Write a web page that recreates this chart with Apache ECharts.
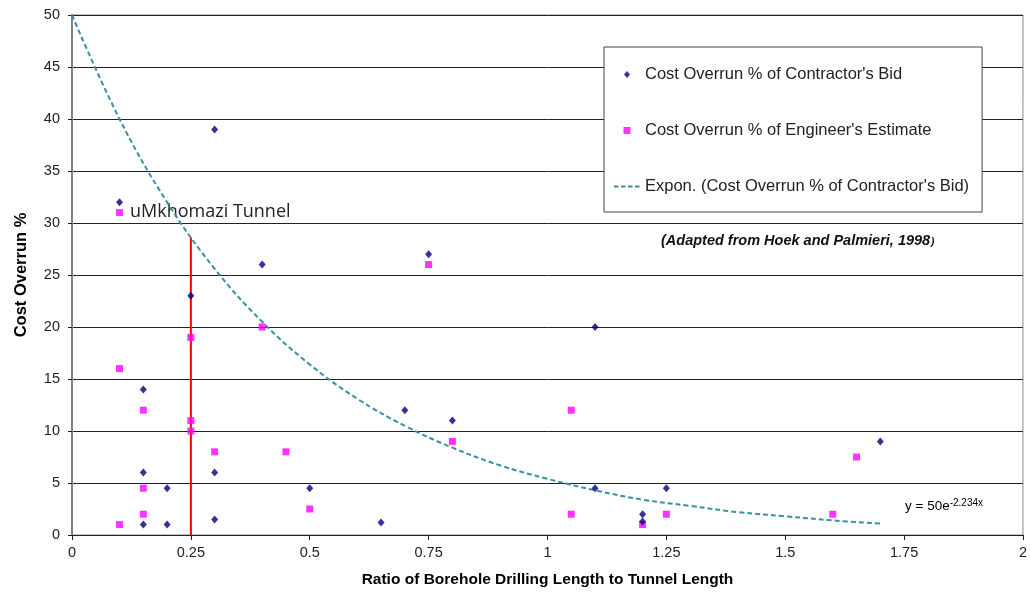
<!DOCTYPE html>
<html>
<head>
<meta charset="utf-8">
<script src="https://cdn.jsdelivr.net/npm/echarts@6/dist/echarts.min.js"></script>
<style>
html,body{margin:0;padding:0;background:#fff;}
#c{width:1030px;height:593px;}
</style>
</head>
<body>
<div id="c"></div>
<script>
// ---- data ----
var contractorBid = [
  [0.1, 32], [0.3, 39], [0.25, 23], [0.4, 26], [0.15, 14], [0.75, 27],
  [1.1, 20], [0.7, 12], [0.8, 11], [0.15, 6], [0.3, 6], [0.2, 4.5],
  [0.5, 4.5], [1.1, 4.5], [1.25, 4.5], [1.2, 2], [1.2, 1.3], [1.7, 9],
  [0.15, 1], [0.2, 1], [0.3, 1.5], [0.65, 1.2]
];
var engineerEstimate = [
  [0.1, 31], [0.1, 16], [0.15, 12], [0.25, 19], [0.25, 11], [0.25, 10],
  [0.4, 20], [0.75, 26], [0.3, 8], [0.45, 8], [0.8, 9], [1.05, 12],
  [0.15, 4.5], [0.15, 2], [0.1, 1], [0.5, 2.5], [1.05, 2], [1.2, 1],
  [1.25, 2], [1.6, 2], [1.65, 7.5]
];
var trendX = [0, 0.1, 0.2, 0.3, 0.4, 0.5, 0.6, 0.7, 0.8, 0.9, 1.0, 1.1, 1.2, 1.3, 1.4, 1.5, 1.6, 1.7];
var trendY = [50, 40, 32, 25.6, 20.5, 16.4, 13.1, 10.5, 8.4, 6.7, 5.4, 4.3, 3.4, 2.8, 2.2, 1.8, 1.4, 1.1];
var redLineX = [0.25, 0.25];
var redLineY = [0, 28.6];
var xTicks = {min: 0, max: 2, interval: 0.25};
var yTicks = {min: 0, max: 50, interval: 5};
var names = [
  "Cost Overrun % of Contractor's Bid",
  "Cost Overrun % of Engineer's Estimate",
  "Expon. (Cost Overrun % of Contractor's Bid)"
];

var trendData = trendX.map(function (x, i) { return [x, trendY[i]]; });
var redData = redLineX.map(function (x, i) { return [x, redLineY[i]]; });

// legend icons (26 x 7 boxes)
var ICON_DIAMOND = 'path://M0,0M26,7M13,0L16,3.5L13,7L10,3.5Z';
var ICON_SQUARE = 'path://M0,0M26,7M9.5,0L16.5,0L16.5,7L9.5,7Z';
var ICON_DASH = 'path://M0,0M26,7M0,2.5h4.5v2h-4.5ZM7,2.5h4.5v2h-4.5ZM14,2.5h4.5v2h-4.5ZM21,2.5h4.5v2h-4.5Z';

var FONT = 'Liberation Sans, Arial, sans-serif';
var chart = echarts.init(document.getElementById('c'), null, {renderer: 'canvas'});
chart.setOption({
  animation: false,
  backgroundColor: '#fff',
  grid: {left: 72, right: 6, top: 15, bottom: 58, show: true, borderColor: '#888', borderWidth: 1},
  xAxis: {
    type: 'value', min: xTicks.min, max: xTicks.max, interval: xTicks.interval,
    name: 'Ratio of Borehole Drilling Length to Tunnel Length',
    nameLocation: 'middle', nameGap: 37,
    nameTextStyle: {fontFamily: FONT, fontWeight: 'bold', fontSize: 15.5, color: '#000'},
    axisLine: {show: true, onZero: false, lineStyle: {color: '#222', width: 1}},
    axisTick: {show: true, length: 5, lineStyle: {color: '#222'}},
    axisLabel: {fontFamily: FONT, fontSize: 14.5, color: '#222', margin: 10},
    splitLine: {show: false}
  },
  yAxis: {
    type: 'value', min: yTicks.min, max: yTicks.max, interval: yTicks.interval,
    name: 'Cost Overrun %', nameLocation: 'middle', nameGap: 42,
    nameTextStyle: {fontFamily: FONT, fontWeight: 'bold', fontSize: 16.5, color: '#000'},
    axisLine: {show: true, onZero: false, lineStyle: {color: '#808080', width: 2}},
    axisTick: {show: true, length: 4, lineStyle: {color: '#222'}},
    axisLabel: {fontFamily: FONT, fontSize: 14.5, color: '#222', margin: 12},
    splitLine: {show: true, lineStyle: {color: '#222', width: 1}}
  },
  legend: {
    left: 604, top: 47, orient: 'vertical',
    backgroundColor: '#fff', borderColor: '#444', borderWidth: 1,
    padding: [19, 13, 17, 10], itemGap: 39, itemWidth: 26, itemHeight: 7,
    textStyle: {fontFamily: FONT, fontSize: 16.5, color: '#222'},
    data: [
      {name: names[0], icon: ICON_DIAMOND},
      {name: names[1], icon: ICON_SQUARE},
      {name: names[2], icon: ICON_DASH}
    ]
  },
  series: [
    {
      name: 'red', type: 'line', data: redData, symbol: 'none',
      lineStyle: {color: '#ff0000', width: 2}, z: 1
    },
    {
      name: names[2], type: 'line', data: trendData, symbol: 'none', smooth: 0.4,
      lineStyle: {color: '#3a8fa3', width: 2, type: [5, 3]}, itemStyle: {color: '#3a8fa3'}, z: 2
    },
    {
      name: names[1], type: 'scatter', data: engineerEstimate, symbol: 'rect', symbolSize: 7,
      itemStyle: {color: '#ff00ff'}, z: 3
    },
    {
      name: names[0], type: 'scatter', data: contractorBid, symbol: 'diamond', symbolSize: [7, 8],
      itemStyle: {color: '#000080'}, z: 4
    }
  ],
  graphic: [
    {type: 'text', left: 130, top: 203, style: {text: 'uMkhomazi Tunnel', font: '18px "Open Sans", sans-serif', fill: '#222'}},
    {type: 'text', left: 661, top: 233, style: {text: '(Adapted from Hoek and Palmieri, 1998', font: 'italic bold 14.5px ' + FONT, fill: '#111'}},
    {type: 'text', left: 931, top: 237, style: {text: ')', font: 'italic bold 10px ' + FONT, fill: '#111'}},
    {type: 'text', left: 905, top: 498, style: {
      rich: {b: {fontFamily: FONT, fontSize: 13.5, color: '#222'}, s: {fontFamily: FONT, fontSize: 10, color: '#222', verticalAlign: 'top', padding: [0, 0, 7, 0]}},
      text: '{b|y = 50e}{s|-2.234x}'
    }}
  ]
});
</script>
</body>
</html>
